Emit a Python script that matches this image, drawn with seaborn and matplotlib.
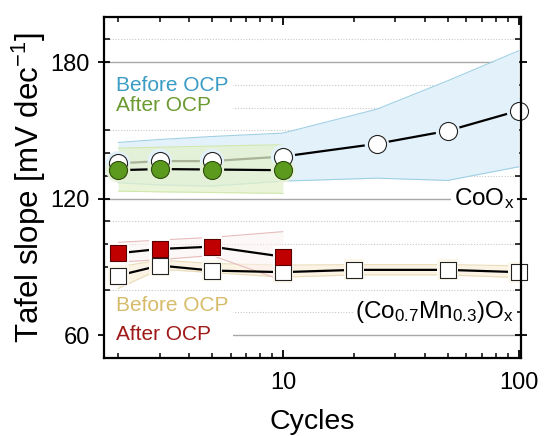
import matplotlib
matplotlib.use("Agg")
import matplotlib.pyplot as plt
import seaborn as sns
import pandas as pd
from matplotlib.patches import Rectangle
from matplotlib.transforms import Bbox
from matplotlib.ticker import FixedLocator, MultipleLocator, LogLocator, NullFormatter, FixedFormatter

# ---------------- data ----------------
cycles_co = [2, 3, 5, 10, 25, 50, 100]
co_before = [135.5, 136.5, 136.5, 138.5, 144.1, 149.8, 158.7]
co_before_hi = [144.7, 146.0, 147.3, 148.8, 159.3, 171.8, 185.0]
co_before_lo = [127.0, 126.0, 125.5, 127.7, 129.0, 128.0, 134.0]

cycles_co_after = [2, 3, 5, 10]
co_after = [132.5, 133.0, 132.8, 132.5]
co_after_hi = [142.2, 142.6, 143.1, 143.7]
co_after_lo = [123.3, 123.0, 122.7, 122.3]

cycles_mn = [2, 3, 5, 10, 20, 50, 100]
mn_before = [86.2, 90.6, 88.4, 87.7, 88.7, 88.7, 87.7]
mn_before_hi = [90.0, 93.0, 91.5, 90.8, 91.0, 91.0, 90.5]
mn_before_lo = [80.5, 89.0, 87.5, 85.5, 86.5, 86.5, 85.3]

cycles_mn_after = [2, 3, 5, 10]
mn_after = [96.0, 97.9, 98.9, 94.5]
mn_after_hi = [100.8, 101.8, 103.0, 105.5]
mn_after_lo = [92.1, 93.2, 95.0, 84.0]

x_ticks = [10, 100]
x_ticklabels = ["10", "100"]
y_ticks = [60, 120, 180]

# ---------------- style ----------------
sns.set_theme(style="ticks")
plt.rcParams["font.family"] = ["Liberation Sans", "DejaVu Sans"]
plt.rcParams["mathtext.fontset"] = "custom"
plt.rcParams["mathtext.rm"] = "Liberation Sans"
plt.rcParams["mathtext.it"] = "Liberation Sans:italic"
plt.rcParams["mathtext.default"] = "regular"
for k in ["text.color", "axes.labelcolor", "xtick.color", "ytick.color", "axes.edgecolor"]:
    plt.rcParams[k] = "black"

fig = plt.figure(figsize=(5.47, 4.36), dpi=100)
ax = fig.add_axes([0.191, 0.179, 0.761, 0.783])

ax.set_xscale("log")
ax.set_xlim(1.75, 102)
ax.set_ylim(50, 200)

# bands
ax.fill_between(cycles_co, co_before_lo, co_before_hi, color="#e3f1fb", lw=0, zorder=1)
ax.plot(cycles_co, co_before_hi, color="#9fd0e4", lw=0.8, zorder=1.1)
ax.plot(cycles_co, co_before_lo, color="#9fd0e4", lw=0.8, zorder=1.1)

ax.fill_between(cycles_mn, mn_before_lo, mn_before_hi, color="#fbf4e4", lw=0, zorder=1)
ax.plot(cycles_mn, mn_before_hi, color="#eadcb8", lw=0.8, zorder=1.1)
ax.plot(cycles_mn, mn_before_lo, color="#eadcb8", lw=0.8, zorder=1.1)

ax.fill_between(cycles_mn_after, mn_after_lo, mn_after_hi, color="#fdf2f2", alpha=0.5, lw=0, zorder=1.2)
ax.plot(cycles_mn_after, mn_after_hi, color="#e6bcbc", lw=0.8, zorder=1.3)
ax.plot(cycles_mn_after, mn_after_lo, color="#e6bcbc", lw=0.8, zorder=1.3)

# lines
df_co = pd.DataFrame({"x": cycles_co, "y": co_before})
df_coa = pd.DataFrame({"x": cycles_co_after, "y": co_after})
df_mn = pd.DataFrame({"x": cycles_mn, "y": mn_before})
df_mna = pd.DataFrame({"x": cycles_mn_after, "y": mn_after})

sns.lineplot(data=df_co, x="x", y="y", ax=ax, color="black", lw=1.6, zorder=2)
ax.fill_between(cycles_co_after, co_after_lo, co_after_hi, color="#e2f1cc", alpha=0.75, lw=0, zorder=2.5)
ax.plot(cycles_co_after, co_after_hi, color="#d2e8ad", lw=0.8, zorder=2.6)
ax.plot(cycles_co_after, co_after_lo, color="#d2e8ad", lw=0.8, zorder=2.6)
sns.lineplot(data=df_coa, x="x", y="y", ax=ax, color="black", lw=1.6, zorder=3)
sns.lineplot(data=df_mn, x="x", y="y", ax=ax, color="black", lw=1.6, zorder=3)
sns.lineplot(data=df_mna, x="x", y="y", ax=ax, color="black", lw=1.6, zorder=3)

# halos (small gap between line and symbol)
sns.scatterplot(data=df_co, x="x", y="y", ax=ax, marker="o", s=17.5**2, color="#e3f1fb", edgecolor="none", linewidth=0, zorder=4)
sns.scatterplot(data=df_coa, x="x", y="y", ax=ax, marker="o", s=17.5**2, color="#e6f2d6", edgecolor="none", linewidth=0, zorder=4)
sns.scatterplot(data=df_mn, x="x", y="y", ax=ax, marker="s", s=15**2, color="#fdf8ee", edgecolor="none", linewidth=0, zorder=4)
sns.scatterplot(data=df_mna, x="x", y="y", ax=ax, marker="s", s=15**2, color="white", edgecolor="none", linewidth=0, zorder=4)

# markers
sns.scatterplot(data=df_co, x="x", y="y", ax=ax, marker="o", s=13**2, color="white", edgecolor="#222222", linewidth=0.8, zorder=5, clip_on=False)
sns.scatterplot(data=df_coa, x="x", y="y", ax=ax, marker="o", s=13**2, color="#5b9a1c", edgecolor="#2e4d10", linewidth=0.8, zorder=6, clip_on=False)
sns.scatterplot(data=df_mn, x="x", y="y", ax=ax, marker="s", s=11.5**2, color="white", edgecolor="#222222", linewidth=0.8, zorder=5, clip_on=False)
sns.scatterplot(data=df_mna, x="x", y="y", ax=ax, marker="s", s=11.5**2, color="#c00000", edgecolor="#5a0000", linewidth=0.8, zorder=6, clip_on=False)

# grid / ticks
ax.yaxis.set_major_locator(FixedLocator(y_ticks))
ax.yaxis.set_minor_locator(MultipleLocator(10))
ax.xaxis.set_major_locator(FixedLocator(x_ticks))
ax.xaxis.set_major_formatter(FixedFormatter(x_ticklabels))
ax.xaxis.set_minor_locator(LogLocator(base=10, subs=range(2, 10)))
ax.xaxis.set_minor_formatter(NullFormatter())
ax.grid(False)
ax.yaxis.grid(True, which="major", color="#a8a8a8", lw=1.0, ls="-", zorder=0)
ax.yaxis.grid(True, which="minor", color="#c8c8c8", lw=0.8, ls=(0, (1, 1.5)), zorder=0)
ax.set_axisbelow(True)

for sp in ax.spines.values():
    sp.set_linewidth(1.6)
    sp.set_color("black")
    sp.set_zorder(10)

ax.tick_params(axis="both", which="both", top=True, right=True, colors="black")
ax.tick_params(axis="y", which="major", direction="inout", length=9, width=1.3, labelsize=17, pad=6)
ax.tick_params(axis="y", which="minor", direction="in", length=4, width=1.1)
ax.tick_params(axis="x", which="major", direction="in", length=6, width=1.3, labelsize=17, pad=10)
ax.tick_params(axis="x", which="minor", direction="in", length=3.5, width=1.1)

ax.set_xlabel("Cycles", fontsize=20.5, labelpad=11)
ax.set_ylabel("Tafel slope [mV dec$^{-1}$]", fontsize=22.5, labelpad=2)

# annotation texts
t1 = ax.text(1.95, 169.8, "Before OCP", color="#3a9cc4", fontsize=15, ha="left", va="center", zorder=8)
t2 = ax.text(1.95, 160.9, "After OCP", color="#6a9a30", fontsize=15, ha="left", va="center", zorder=8)
t3 = ax.text(1.95, 73.1, "Before OCP", color="#d6bb6a", fontsize=15, ha="left", va="center", zorder=8)
t4 = ax.text(1.95, 60.5, "After OCP", color="#a01818", fontsize=15, ha="left", va="center", zorder=8)

ax.text(96, 120.0, "CoO$_\\mathregular{x}$", color="black", fontsize=17.5, ha="right", va="center",
        bbox=dict(facecolor="white", edgecolor="none", pad=2), zorder=7)
ax.text(96, 70.3, "(Co$_\\mathregular{0.7}$Mn$_\\mathregular{0.3}$)O$_\\mathregular{x}$", color="black",
        fontsize=17.5, ha="right", va="center",
        bbox=dict(facecolor="white", edgecolor="none", pad=2), zorder=7)

# white backing boxes behind the text pairs (derived from text extents)
fig.canvas.draw()
renderer = fig.canvas.get_renderer()
inv = ax.transData.inverted()
for pair in [(t1, t2), (t3, t4)]:
    bb = Bbox.union([t.get_window_extent(renderer) for t in pair])
    x0 = ax.transAxes.transform((0, 0))[0]
    (dx0, dy0) = inv.transform((x0, bb.y0 - 2))
    (dx1, dy1) = inv.transform((bb.x1 + 5, bb.y1 + 2))
    ax.add_patch(Rectangle((dx0, dy0), dx1 - dx0, dy1 - dy0, facecolor="white",
                           edgecolor="none", zorder=7))

fig.savefig("out.png", dpi=100)
